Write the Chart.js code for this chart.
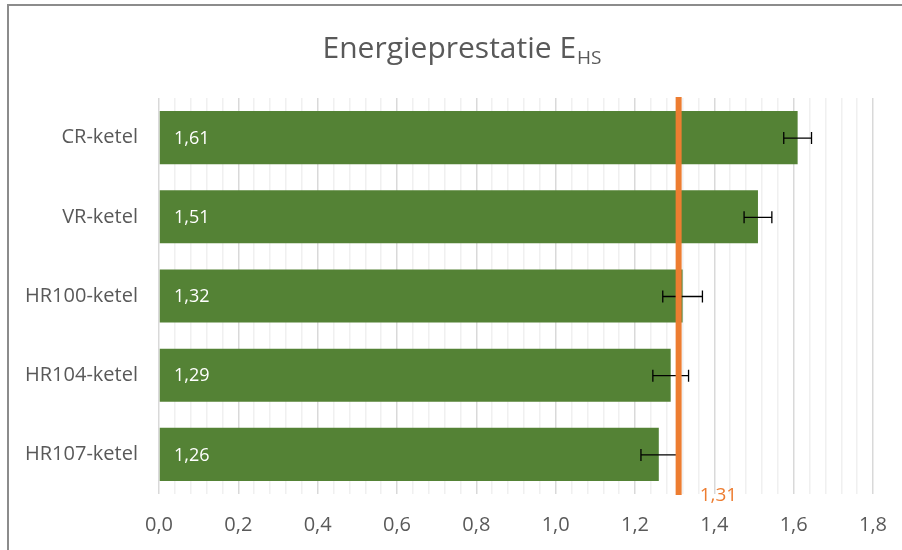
<!DOCTYPE html>
<html>
<head>
<meta charset="utf-8">
<script src="https://cdn.jsdelivr.net/npm/chart.js@4/dist/chart.umd.min.js"></script>
<style>
  html, body { margin: 0; padding: 0; background: #fff; }
  #wrap { width: 902px; height: 550px; }
</style>
</head>
<body>
<div id="wrap"><canvas id="chart"></canvas></div>
<script>
// data
const categories = ["CR-ketel", "VR-ketel", "HR100-ketel", "HR104-ketel", "HR107-ketel"];
const values = [1.61, 1.51, 1.32, 1.29, 1.26];
const errors = [0.035, 0.035, 0.05, 0.045, 0.045];
const refValue = 1.31;
const xMin = 0;
const xMax = 1.8;

const FONT = "'Open Sans', 'Noto Sans', sans-serif";
const TEXT = "#595959";
const GREEN = "#548235";
const ORANGE = "#ED7D31";

const fmt = (v, d) => v.toFixed(d).replace(".", ",");

// frame, title, error bars, reference line, value labels
const decor = {
  id: "decor",
  beforeDraw(chart) {
    const ctx = chart.ctx;
    ctx.save();
    ctx.strokeStyle = "#8c8c8c";
    ctx.lineWidth = 2;
    ctx.beginPath();
    ctx.moveTo(8, 551);
    ctx.lineTo(8, 5);
    ctx.lineTo(903, 5);
    ctx.stroke();

    // title with subscript
    const main = "Energieprestatie E";
    const sub = "HS";
    ctx.fillStyle = TEXT;
    ctx.textBaseline = "alphabetic";
    ctx.font = "30px " + FONT;
    const w1 = ctx.measureText(main).width;
    ctx.font = "19px " + FONT;
    const w2 = ctx.measureText(sub).width;
    const x0 = 462 - (w1 + w2 + 1) / 2;
    ctx.font = "30px " + FONT;
    ctx.textAlign = "left";
    ctx.fillText(main, x0, 58);
    ctx.font = "19px " + FONT;
    ctx.fillText(sub, x0 + w1 + 1, 64);
    ctx.restore();
  },
  afterDatasetsDraw(chart) {
    const ctx = chart.ctx;
    const xs = chart.scales.x;
    const ys = chart.scales.y;
    const area = chart.chartArea;
    ctx.save();

    // value labels inside the bars
    ctx.fillStyle = "#ffffff";
    ctx.font = "18px " + FONT;
    ctx.textAlign = "left";
    ctx.textBaseline = "middle";
    values.forEach((v, i) => {
      ctx.fillText(fmt(v, 2), xs.getPixelForValue(0) + 15, ys.getPixelForValue(i) + 1);
    });

    // error bars
    ctx.strokeStyle = "#000000";
    ctx.lineWidth = 1.3;
    values.forEach((v, i) => {
      const y = ys.getPixelForValue(i) + 0.5;
      const a = xs.getPixelForValue(v - errors[i]);
      const b = xs.getPixelForValue(v + errors[i]);
      ctx.beginPath();
      ctx.moveTo(a, y); ctx.lineTo(b, y);
      ctx.moveTo(a, y - 6); ctx.lineTo(a, y + 6);
      ctx.moveTo(b, y - 6); ctx.lineTo(b, y + 6);
      ctx.stroke();
    });

    // reference line
    const rx = xs.getPixelForValue(refValue);
    ctx.strokeStyle = ORANGE;
    ctx.lineWidth = 6;
    ctx.beginPath();
    ctx.moveTo(rx, area.top - 1);
    ctx.lineTo(rx, area.bottom + 1);
    ctx.stroke();
    ctx.fillStyle = ORANGE;
    ctx.font = "19px " + FONT;
    ctx.textAlign = "left";
    ctx.textBaseline = "middle";
    ctx.fillText(fmt(refValue, 2), rx + 21, area.bottom + 2);
    ctx.restore();
  }
};

new Chart(document.getElementById("chart"), {
  type: "bar",
  data: {
    labels: categories,
    datasets: [{
      data: values,
      backgroundColor: GREEN,
      borderWidth: 0,
      categoryPercentage: 1,
      barPercentage: 0.67
    }]
  },
  options: {
    indexAxis: "y",
    responsive: true,
    maintainAspectRatio: false,
    animation: false,
    layout: { padding: { top: 98, right: 29, left: 0, bottom: 0 } },
    plugins: {
      legend: { display: false },
      tooltip: { enabled: false }
    },
    scales: {
      x: {
        min: xMin,
        max: xMax,
        afterFit: (s) => { s.height = 56; s.paddingRight = 0; s.paddingLeft = 0; },
        border: { display: false },
        grid: {
          drawTicks: false,
          lineWidth: 1.5,
          color: (c) => (c.index % 5 === 0 ? "#d9d9d9" : "#f0f0f0")
        },
        ticks: {
          stepSize: 0.04,
          autoSkip: false,
          maxRotation: 0,
          padding: 19,
          color: TEXT,
          font: { family: FONT, size: 20 },
          callback: (v) => {
            const k = v / 0.2;
            return Math.abs(k - Math.round(k)) < 1e-6 ? fmt(v, 1) : "";
          }
        }
      },
      y: {
        afterFit: (s) => { s.width = 159; },
        border: { display: false },
        grid: { display: false, drawTicks: false },
        ticks: {
          padding: 21,
          color: TEXT,
          font: { family: FONT, size: 20 }
        }
      }
    }
  },
  plugins: [decor]
});
</script>
</body>
</html>
